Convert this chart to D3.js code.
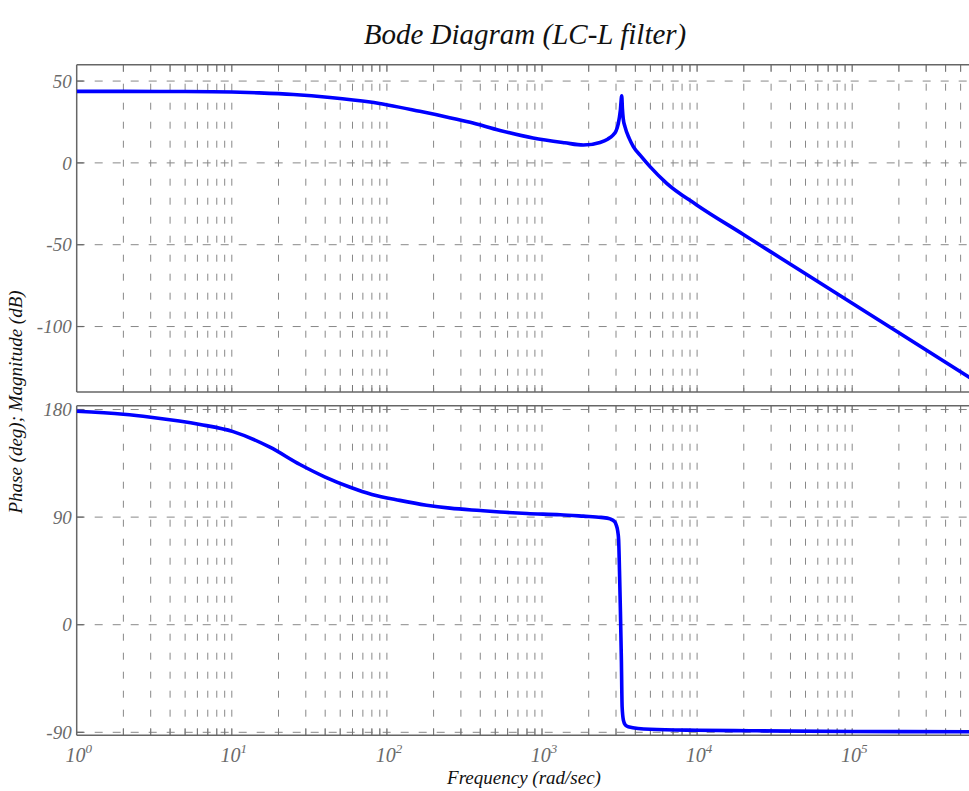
<!DOCTYPE html>
<html>
<head>
<meta charset="utf-8">
<script src="https://cdn.jsdelivr.net/npm/d3@7"></script>
<style>
  html, body { margin: 0; padding: 0; background: #fff; }
  svg { display: block; }
  text { font-family: "Liberation Serif", "DejaVu Serif", serif; font-style: italic; }
</style>
</head>
<body>
<script>
// ---------------- data ----------------
const titleText = "Bode Diagram (LC-L filter)";
const xLabelText = "Frequency (rad/sec)";
const yLabelText = "Phase (deg); Magnitude (dB)";

const xTickExponents = [0, 1, 2, 3, 4, 5];
const magTicks = [50, 0, -50, -100];
const phaseTicks = [180, 90, 0, -90];

const magFreq = [1, 2, 5, 10, 15, 25, 43, 78, 163, 250, 344, 536, 875, 1400, 1846, 2366, 2650, 2870, 3000, 3104, 3200, 3266, 3300, 3340, 3430, 3650, 3880, 4400, 4970, 6370, 9940, 20000, 50000, 100000, 200000, 600000];
const magDb   = [43.7, 43.7, 43.6, 43.3, 42.8, 41.8, 40, 37.2, 31.5, 27.8, 24.8, 19.8, 15.2, 12.3, 10.9, 12.5, 14.5, 17, 19.5, 24, 32, 41, 33, 27, 22, 15, 10, 3.5, -2.3, -12.5, -25.7, -43.9, -67.8, -85.8, -103.8, -132.4];

const phaseFreq = [1, 2, 3, 6.25, 10.2, 17.6, 27.5, 40, 58, 80, 121, 180, 255, 400, 536, 800, 1310, 1846, 2400, 2750, 2950, 3010, 3080, 3120, 3160, 3205, 3250, 3285, 3350, 3450, 3595, 4970, 10000, 21900, 100000, 600000];
const phaseDeg  = [178.5, 176, 173.5, 167.5, 161.5, 148.5, 134, 123.5, 115, 109, 104, 100, 97.5, 95.5, 94.3, 93, 92, 90.8, 89.8, 88.5, 86, 83.4, 78, 71, 45, 10, -30, -68.6, -80, -84, -85.3, -87.5, -88.3, -88.7, -89.3, -89.5];

// ---------------- layout ----------------
const W = 969, H = 791;
const plotLeft = 76.7, plotRight = 1007.3;
const magTop = 64.7, magBottom = 392;
const phTop = 405.7, phBottom = 735.3;

const svg = d3.select("body").append("svg").attr("width", W).attr("height", H);

const x = d3.scaleLog().domain([1, 1e6]).range([plotLeft, plotRight]);
const yMag = d3.scaleLinear().domain([-140, 60]).range([magBottom, magTop]);
const yPh = d3.scaleLinear().domain([-92.5, 183.2]).range([phBottom, phTop]);

// grid x positions: 1..9 per decade
const gridX = [];
for (let e = 0; e < 6; e++) for (let m = 1; m <= 9; m++) gridX.push(m * Math.pow(10, e));
gridX.push(1e6);

const gridColor = "#888", frameColor = "#666";

function panel(y, top, bottom, ticks, id, freq, vals) {
  const g = svg.append("g");
  svg.append("clipPath").attr("id", id).append("rect")
    .attr("x", plotLeft).attr("y", top).attr("width", plotRight - plotLeft).attr("height", bottom - top);
  // vertical grid
  g.selectAll("line.vg").data(gridX.filter(v => v > 1)).join("line")
    .attr("x1", d => x(d)).attr("x2", d => x(d))
    .attr("y1", top).attr("y2", bottom)
    .attr("stroke", gridColor).attr("stroke-width", 1)
    .attr("stroke-dasharray", "7,12");
  // horizontal grid
  g.selectAll("line.hg").data(ticks).join("line")
    .attr("x1", plotLeft).attr("x2", plotRight)
    .attr("y1", d => y(d)).attr("y2", d => y(d))
    .attr("stroke", gridColor).attr("stroke-width", 1)
    .attr("stroke-dasharray", "8,10");
  // ticks on top / bottom frame
  g.selectAll("line.tb").data(gridX.filter(v => v > 1)).join("line")
    .attr("x1", d => x(d)).attr("x2", d => x(d))
    .attr("y1", bottom).attr("y2", bottom - 7)
    .attr("stroke", "#777").attr("stroke-width", 1);
  g.selectAll("line.tt").data(gridX.filter(v => v > 1)).join("line")
    .attr("x1", d => x(d)).attr("x2", d => x(d))
    .attr("y1", top).attr("y2", top + 7)
    .attr("stroke", "#777").attr("stroke-width", 1);
  // left ticks
  g.selectAll("line.lt").data(ticks).join("line")
    .attr("x1", plotLeft).attr("x2", plotLeft + 7)
    .attr("y1", d => y(d)).attr("y2", d => y(d))
    .attr("stroke", "#666").attr("stroke-width", 1.2);
  // frame
  g.append("line").attr("x1", plotLeft).attr("x2", plotRight).attr("y1", top).attr("y2", top)
    .attr("stroke", frameColor).attr("stroke-width", 1.5);
  g.append("line").attr("x1", plotLeft).attr("x2", plotRight).attr("y1", bottom).attr("y2", bottom)
    .attr("stroke", frameColor).attr("stroke-width", 1.5);
  g.append("line").attr("x1", plotLeft).attr("x2", plotLeft).attr("y1", top).attr("y2", bottom)
    .attr("stroke", frameColor).attr("stroke-width", 1.5);
  // y tick labels
  g.selectAll("text.yl").data(ticks).join("text")
    .attr("x", plotLeft - 5).attr("y", d => y(d)).attr("dy", "0.35em")
    .attr("text-anchor", "end").attr("font-size", 19).attr("fill", "#6a6a6a")
    .text(d => d);
  // curve
  const pts = freq.map((f, i) => [f, vals[i]]);
  g.append("path").datum(pts)
    .attr("clip-path", `url(#${id})`)
    .attr("fill", "none").attr("stroke", "#0000ff").attr("stroke-width", 3.6)
    .attr("stroke-linejoin", "round")
    .attr("d", d3.line().x(d => x(d[0])).y(d => y(d[1])).curve(d3.curveMonotoneX));
}

panel(yMag, magTop, magBottom, magTicks, "clipMag", magFreq, magDb);
panel(yPh, phTop, phBottom, phaseTicks, "clipPh", phaseFreq, phaseDeg);

// x tick labels 10^n
const xl = svg.selectAll("text.xl").data(xTickExponents).join("text")
  .attr("x", d => x(Math.pow(10, d)) + 2).attr("y", 762)
  .attr("text-anchor", "middle").attr("font-size", 20).attr("fill", "#6a6a6a");
xl.append("tspan").text("10");
xl.append("tspan").attr("dy", -9).attr("font-size", 13).text(d => d);

// title
svg.append("text").attr("x", 525).attr("y", 44).attr("text-anchor", "middle")
  .attr("font-size", 29).attr("fill", "#111").text(titleText);
// x label
svg.append("text").attr("x", 524).attr("y", 784).attr("text-anchor", "middle")
  .attr("font-size", 19).attr("fill", "#111").text(xLabelText);
// y label
svg.append("text").attr("transform", "translate(22,402) rotate(-90)")
  .attr("text-anchor", "middle").attr("font-size", 19).attr("fill", "#111").text(yLabelText);
</script>
</body>
</html>
